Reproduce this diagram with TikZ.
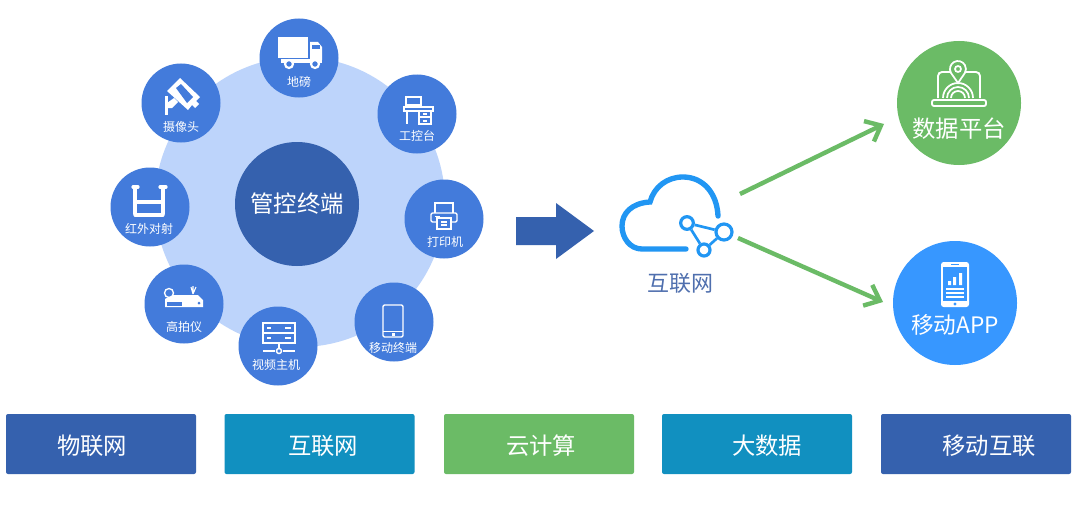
\documentclass[tikz,border=0pt]{standalone}
\usepackage{fontspec}
\setmainfont{Noto Sans CJK SC}
\usetikzlibrary{arrows.meta}
\definecolor{lightdisc}{HTML}{BDD4FB}
\definecolor{midblue}{HTML}{437BDB}
\definecolor{deepblue}{HTML}{3561AE}
\definecolor{teal}{HTML}{1190C0}
\definecolor{leaf}{HTML}{6BBB66}
\definecolor{sky}{HTML}{3797FF}
\definecolor{cloudblue}{HTML}{2196F3}
\definecolor{netlabel}{HTML}{4F6FAE}
\tikzset{
  x=0.75pt,y=-0.75pt,
  disc/.style={circle,fill=midblue,minimum size=59.25pt,inner sep=0pt},
  smalllabel/.style={text=white,font=\fontsize{9}{10}\selectfont,inner sep=0pt},
  biglabel/.style={text=white,font=\fontsize{17.5}{20}\selectfont,inner sep=0pt},
  bar/.style={rounded corners=1.5pt,minimum width=142.5pt,minimum height=45pt,inner sep=0pt},
  icon/.style={draw=white,line width=1.1pt,fill=none},
  iconfill/.style={fill=white,draw=none},
  flow/.style={draw=leaf,line width=3.3pt,-{Straight Barb[length=10pt,width=17pt,line width=3.3pt]}},
  cloudline/.style={draw=cloudblue,line width=4pt,line cap=round},
  netline/.style={draw=cloudblue,line width=2pt},
}
\begin{document}
\begin{tikzpicture}
\useasboundingbox (0,0) rectangle (1080,510);
\fill[white] (0,0) rectangle (1080,510);
% hub
\node[circle,fill=lightdisc,minimum size=217.5pt,inner sep=0pt] (hub) at (300,202) {};
\node[circle,fill=deepblue,minimum size=93pt,inner sep=0pt,text=white,font=\fontsize{17.5}{20}\selectfont] (core) at (297,204) {管控终端};
% satellites
\node[disc] (truck) at (299,58) {};
\node[disc] (cam) at (181,103) {};
\node[disc] (ir) at (150,207) {};
\node[disc] (scan) at (184,304) {};
\node[disc] (video) at (278,346) {};
\node[disc] (mobile) at (394,322) {};
\node[disc] (printer) at (444,219) {};
\node[disc] (desk) at (417,114) {};
\node[smalllabel] (ltruck) at (299,82) {地磅};
\node[smalllabel] (lcam) at (181,127) {摄像头};
\node[smalllabel] (lir) at (149,229) {红外对射};
\node[smalllabel] (lscan) at (184,327) {高拍仪};
\node[smalllabel] (lvideo) at (276,365) {视频主机};
\node[smalllabel] (lmobile) at (393,348) {移动终端};
\node[smalllabel] (lprinter) at (445,242) {打印机};
\node[smalllabel] (ldesk) at (417,136) {工控台};
% truck icon
\fill[iconfill] (278,37) rectangle (308,58);
\fill[iconfill] (310,42) -- (318,42) -- (322,47) -- (322,60) -- (310,60) -- cycle;
\fill[midblue] (312,45) rectangle (320,49);
\fill[iconfill] (281,59) rectangle (322,63);
\filldraw[fill=midblue,draw=white,line width=1.6pt] (289,64) circle (4) (315,64) circle (4);
% camera icon
\fill[iconfill] (180,78) -- (200,97) -- (196,101) -- (199,104) -- (195,108) -- (192,105) -- (188,110) -- (167,91) -- cycle;
\fill[midblue] (176,88) -- (181,84) -- (193,97) -- (187,103) -- cycle;
\fill[iconfill] (165,96) rectangle (168,115);
\fill[iconfill] (167,103) -- (174,98) -- (178,102) -- (172,108) -- (167,108) -- cycle;
% infrared icon
\draw[draw=white,line width=2.4pt,line cap=round] (135,188) -- (135,214) (163,188) -- (163,214) (135,202) -- (163,202) (135,215) -- (163,215) (133,187) -- (138,187) (160,187) -- (166,187);
% scanner icon
\fill[iconfill] (172,295) -- (198,295) -- (203,300) -- (203,307) -- (165,307) -- (165,299) -- cycle;
\fill[midblue] (167,302) rectangle (182,306);
\fill[midblue] (199,303) circle (1.5);
\filldraw[fill=midblue,draw=white,line width=1pt] (169,293) circle (4.5);
\draw[draw=white,line width=.8pt] (193,294) -- (191,287) (193,294) -- (193,286) (193,294) -- (196,287);
% video host icon
\draw[icon] (263,323) rectangle (295,343) (263,333) -- (295,333) (279,343) -- (279,349) (263,351) -- (275,351) (283,351) -- (295,351);
\draw[icon] (279,351) circle (2.5);
\draw[icon] (267,328) -- (271,328) (267,338) -- (271,338) (285,328) -- (291,328) (285,338) -- (291,338);
% tablet icon
\draw[icon,rounded corners=1pt] (383,305) rectangle (403,337);
\draw[icon,line width=.7pt] (383,331) -- (403,331);
\fill[iconfill] (392,332.5) rectangle (395,335.5);
% printer icon
\draw[icon] (435,213) -- (435,203) -- (453,203) -- (453,213);
\draw[icon,rounded corners=1pt] (437,222) -- (431,222) -- (431,213) -- (457,213) -- (457,222) -- (451,222);
\draw[icon] (437,218) rectangle (451,229);
\draw[icon,line width=.8pt] (441,222) -- (447,222) (441,225) -- (447,225);
\fill[iconfill] (435,215.5) rectangle (440,216.8);
% desk icon
\draw[icon] (406,97) rectangle (421,105) (413,105) -- (413,107);
\draw[icon] (404,107) rectangle (433,111);
\draw[icon] (407,111) -- (407,124) (419,111) rectangle (431,124) (419,117) -- (431,117) (423,114) -- (427,114) (423,121) -- (427,121);
% transfer arrow
\fill[deepblue] (516,217) -- (556,217) -- (556,203) -- (594,231) -- (556,259) -- (556,245) -- (516,245) -- cycle;
% cloud
\draw[cloudline] (686,249) -- (642,249) .. controls (630,249) and (622,238) .. (622,226) .. controls (622,213) and (632,203) .. (650,202) .. controls (654,187) and (667,177) .. (683,177) .. controls (703,177) and (717,193) .. (718,216);
\node[circle,draw=cloudblue,line width=2.4pt,minimum size=9.5pt,inner sep=0pt] (n1) at (687,223) {};
\node[circle,draw=cloudblue,line width=2.4pt,minimum size=12pt,inner sep=0pt] (n2) at (724,232) {};
\node[circle,draw=cloudblue,line width=2.4pt,minimum size=9pt,inner sep=0pt] (n3) at (704,250) {};
\draw[netline] (n1) -- (n2) (n2) -- (n3) (n3) -- (n1);
\node[inner sep=0pt,text=netlabel,font=\fontsize{16.5}{20}\selectfont] (net) at (680,283) {互联网};
% outputs
\node[circle,fill=leaf,minimum size=93pt,inner sep=0pt] (data) at (959,103) {};
\node[circle,fill=sky,minimum size=93pt,inner sep=0pt] (app) at (955,303) {};
\node[biglabel] (ldata) at (959,129) {数据平台};
\node[biglabel,font=\fontsize{17}{20}\selectfont] (lapp) at (955,325) {移动APP};
\coordinate (s1) at (740,194);
\coordinate (e1) at (884,124);
\coordinate (s2) at (738,238);
\coordinate (e2) at (883,302);
\draw[flow] (s1) -- (e1);
\draw[flow] (s2) -- (e2);
% data platform icon
\draw[draw=white,line width=1.4pt,rounded corners=3pt] (938,98) -- (938,72) -- (980,72) -- (980,98);
\draw[draw=white,line width=1.4pt,rounded corners=1.5pt] (932,100) rectangle (986,106);
\draw[draw=white,line width=1.3pt] (943,98) arc[start angle=180,end angle=360,radius=15] (947,98) arc[start angle=180,end angle=360,radius=11] (951,98) arc[start angle=180,end angle=360,radius=7];
\filldraw[fill=leaf,draw=white,line width=1.3pt] (958,83) -- (951,73) arc[start angle=150,end angle=390,radius=8] -- cycle;
\draw[draw=white,line width=1.3pt] (958,69) circle (3);
% phone icon
\fill[iconfill,rounded corners=2pt] (941,262) rectangle (969,307);
\fill[sky] (943,267) rectangle (967,301);
\fill[sky] (951,263.5) rectangle (959,265);
\fill[sky] (955,304) circle (1.6);
\fill[iconfill] (948,281) rectangle (951,285) (953,277) rectangle (956,285) (959,273) rectangle (962,285);
\draw[draw=white,line width=.8pt] (946,289) -- (964,289) (946,293) -- (964,293) (946,297) -- (964,297);
% bars
\node[bar,fill=deepblue,text=white] (b1) at (101,444) {};
\node[bar,fill=teal] (b2) at (319.5,444) {};
\node[bar,fill=leaf] (b3) at (539,444) {};
\node[bar,fill=teal] (b4) at (757,444) {};
\node[bar,fill=deepblue] (b5) at (976,444) {};
\node[biglabel] (t1) at (92,446) {物联网};
\node[biglabel] (t2) at (323,446) {互联网};
\node[biglabel] (t3) at (541,446) {云计算};
\node[biglabel] (t4) at (767,446) {大数据};
\node[biglabel] (t5) at (989,446) {移动互联};
\end{tikzpicture}
\end{document}
